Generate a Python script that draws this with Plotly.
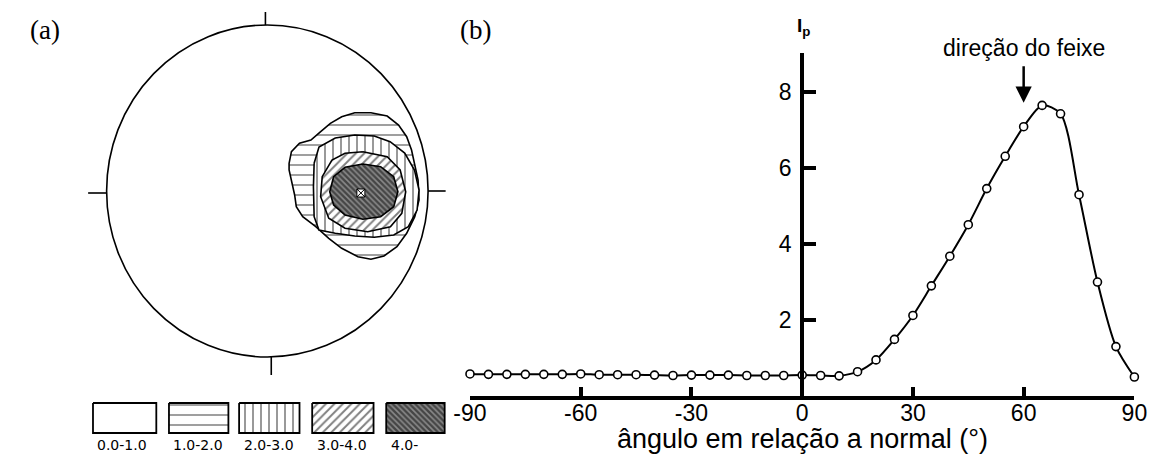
import plotly.graph_objects as go

W, H = 1162, 456

# ---------------- panel (b) data ----------------
angles = list(range(-90, 95, 5))
intensity = [0.58, 0.57, 0.57, 0.57, 0.57, 0.57, 0.58, 0.56, 0.56, 0.56,
             0.55, 0.54, 0.55, 0.55, 0.55, 0.54, 0.54, 0.54, 0.55, 0.54,
             0.53, 0.64, 0.95, 1.49, 2.12, 2.90, 3.68, 4.51, 5.46, 6.31,
             7.09, 7.65, 7.43, 5.30, 3.00, 1.30, 0.50]
x_ticks = [-90, -60, -30, 0, 30, 60, 90]
x_tick_labels = ["-90", "-60", "-30", "0", "30", "60", "90"]
y_ticks = [2, 4, 6, 8]
beam_angle = 60

# ---------------- panel (a) data (pole-figure contours, image px) ----------------
band_12_x = [279.3, 281.7, 290, 301.7, 311.7, 321.7, 333.3, 346.7, 363.3, 380, 391.7, 400, 405,
             408.3, 411.7, 412.7, 408.3, 400, 390, 376.7, 363.3, 350, 333.3, 320, 306.7, 293.3,
             286.7, 285, 281.7, 279.3, 279.3]
band_12_y = [163.3, 151.7, 143.3, 140, 131.7, 123.3, 116.7, 112.7, 112.7, 116, 125, 136.7, 150,
             165, 180, 200, 216.7, 233.3, 246.7, 256, 259.3, 256.7, 248.3, 238.3, 226.7, 216.7,
             206.7, 195, 181.7, 170, 163.3]
band_23_x = [305, 310, 326.7, 346.7, 366.7, 383, 398, 408, 412.7, 410.7, 401.7, 386.7, 366.7,
             346.7, 326.7, 310, 305, 304.3, 305]
band_23_y = [163.3, 147, 138, 135, 136, 141.7, 153, 170, 190, 210, 226.7, 235, 237.3, 236,
             233.3, 230, 216.7, 186.7, 163.3]
band_34_x = [355, 380, 393.3, 399, 395, 383.3, 360, 336.7, 320, 311.7, 313.3, 323.3, 336.7, 355]
band_34_y = [151.7, 156.7, 170, 191.7, 213.3, 226.7, 231.7, 228.3, 218.3, 196.7, 176.7, 160,
             153.3, 151.7]
band_4_x = [355, 373.3, 386.7, 391, 386.7, 373.3, 355, 336.7, 325, 321, 325, 336.7, 355]
band_4_y = [164, 166.7, 176.7, 191.7, 206.7, 216.7, 219.3, 215, 205, 191.7, 176.7, 167.3, 164]
beam_marker = (353, 193)

legend_labels = ["0.0-1.0", "1.0-2.0", "2.0-3.0", "3.0-4.0", "4.0-"]
legend_box_x0 = [78, 156, 228, 303, 379]
legend_box_x1 = [143, 217, 290, 366, 439]
legend_box_y = (403, 433)
legend_label_x = [108, 186, 259, 334, 382]

patterns = [
    None,
    dict(shape="-", size=10, solidity=0.15, fgcolor="black", bgcolor="white"),
    dict(shape="|", size=8, solidity=0.2, fgcolor="black", bgcolor="white"),
    dict(shape="/", size=6, solidity=0.32, fgcolor="black", bgcolor="white"),
    dict(shape="\\", size=4, solidity=0.6, fgcolor="black", bgcolor="#8a8a8a"),
]

fig = go.Figure()

# ---- panel (a) ----
def region(xs, ys, pat, lw=1.6):
    kw = dict(x=xs, y=ys, mode="lines", fill="toself", fillcolor="white",
              line=dict(color="black", width=lw), xaxis="x2", yaxis="y2",
              hoverinfo="skip", showlegend=False)
    if pat is not None:
        kw["fillpattern"] = pat
    fig.add_trace(go.Scatter(**kw))

region(band_12_x, band_12_y, patterns[1])
region(band_23_x, band_23_y, patterns[2])
region(band_34_x, band_34_y, patterns[3])
region(band_4_x, band_4_y, patterns[4])
fig.add_trace(go.Scatter(x=[beam_marker[0]], y=[beam_marker[1]], mode="markers",
                         marker=dict(symbol="square-x", size=8, color="white",
                                     line=dict(color="black", width=1)),
                         xaxis="x2", yaxis="y2", hoverinfo="skip", showlegend=False))

for i, lab in enumerate(legend_labels):
    x0, x1 = legend_box_x0[i], legend_box_x1[i]
    y0, y1 = legend_box_y
    region([x0, x1, x1, x0, x0], [y0, y0, y1, y1, y0], patterns[i], lw=1.8)

shapes = [
    dict(type="circle", xref="x2", yref="y2", x0=92, x1=422, y0=25, y1=357,
         line=dict(color="black", width=1.6)),
    dict(type="line", xref="x2", yref="y2", x0=255, x1=255, y0=12, y1=25, line=dict(color="black", width=1.6)),
    dict(type="line", xref="x2", yref="y2", x0=73, x1=92, y0=193, y1=193, line=dict(color="black", width=1.6)),
    dict(type="line", xref="x2", yref="y2", x0=422, x1=440, y0=191, y1=191, line=dict(color="black", width=1.6)),
    dict(type="line", xref="x2", yref="y2", x0=261, x1=261, y0=357, y1=375, line=dict(color="black", width=1.6)),
]

annotations = []
for i, lab in enumerate(legend_labels):
    annotations.append(dict(xref="x2", yref="y2", x=legend_label_x[i], y=445, text=lab,
                            showarrow=False, xanchor="left" if i == 4 else "center",
                            yanchor="middle", font=dict(family="DejaVu Sans", size=14, color="black")))

# ---- panel (b) ----
fig.add_trace(go.Scatter(x=angles, y=intensity, mode="lines+markers",
                         line=dict(color="black", width=2, shape="spline", smoothing=0.8),
                         marker=dict(symbol="circle", size=8, color="white",
                                     line=dict(color="black", width=1.6)),
                         cliponaxis=False, showlegend=False))

annotations += [
    dict(xref="paper", yref="paper", x=11 / W, y=1 - 30 / H, text="(a)", showarrow=False,
         xanchor="left", yanchor="middle", font=dict(family="Liberation Serif", size=27, color="black")),
    dict(xref="paper", yref="paper", x=453 / W, y=1 - 30 / H, text="(b)", showarrow=False,
         xanchor="left", yanchor="middle", font=dict(family="Liberation Serif", size=27, color="black")),
    dict(xref="paper", yref="paper", x=807 / W, y=1 - 27 / H, text="<b>I<sub>p</sub></b>", showarrow=False,
         xanchor="center", yanchor="middle", font=dict(family="Liberation Sans", size=19, color="black")),
    dict(xref="paper", yref="paper", x=806 / W, y=1 - 439 / H, text="ângulo em relação a normal (°)",
         showarrow=False, xanchor="center", yanchor="middle",
         font=dict(family="Liberation Sans", size=27, color="black")),
    dict(xref="x", yref="paper", x=beam_angle, y=1 - 48 / H, text="direção do feixe", showarrow=False,
         xanchor="center", yanchor="middle", font=dict(family="Liberation Sans", size=23, color="black")),
    dict(xref="x", yref="y", x=beam_angle, y=7.72, ax=beam_angle, ay=8.72, axref="x", ayref="y",
         text="", showarrow=True, arrowhead=2, arrowsize=1.3, arrowwidth=2.5, arrowcolor="black", standoff=0),
]

fig.update_layout(
    width=W, height=H, autosize=False,
    margin=dict(l=0, r=0, t=0, b=0),
    paper_bgcolor="white", plot_bgcolor="white",
    shapes=shapes, annotations=annotations,
    xaxis=dict(domain=[465 / W, 1147 / W], range=[-90, 90], showgrid=False, zeroline=False,
               showline=True, linecolor="black", linewidth=4, ticks="inside", ticklen=9,
               tickwidth=3.5, tickcolor="black", tickvals=x_ticks, ticktext=x_tick_labels,
               tickfont=dict(family="Liberation Sans", size=23, color="black"), anchor="y",
               ticklabelstandoff=-7),
    yaxis=dict(domain=[1 - 396 / H, 1 - 53 / H], range=[0, 9.03], showgrid=False, zeroline=False,
               showline=True, linecolor="black", linewidth=4, ticks="inside", ticklen=12,
               tickwidth=3.5, tickcolor="black", tickvals=y_ticks,
               tickfont=dict(family="Liberation Sans", size=23, color="black"),
               anchor="free", position=806 / W, ticklabelstandoff=4),
    xaxis2=dict(domain=[0, 460 / W], range=[0, 460], visible=False, anchor="y2"),
    yaxis2=dict(domain=[0, 1], range=[456, 0], visible=False, anchor="x2"),
)

fig.write_html("out.html")
